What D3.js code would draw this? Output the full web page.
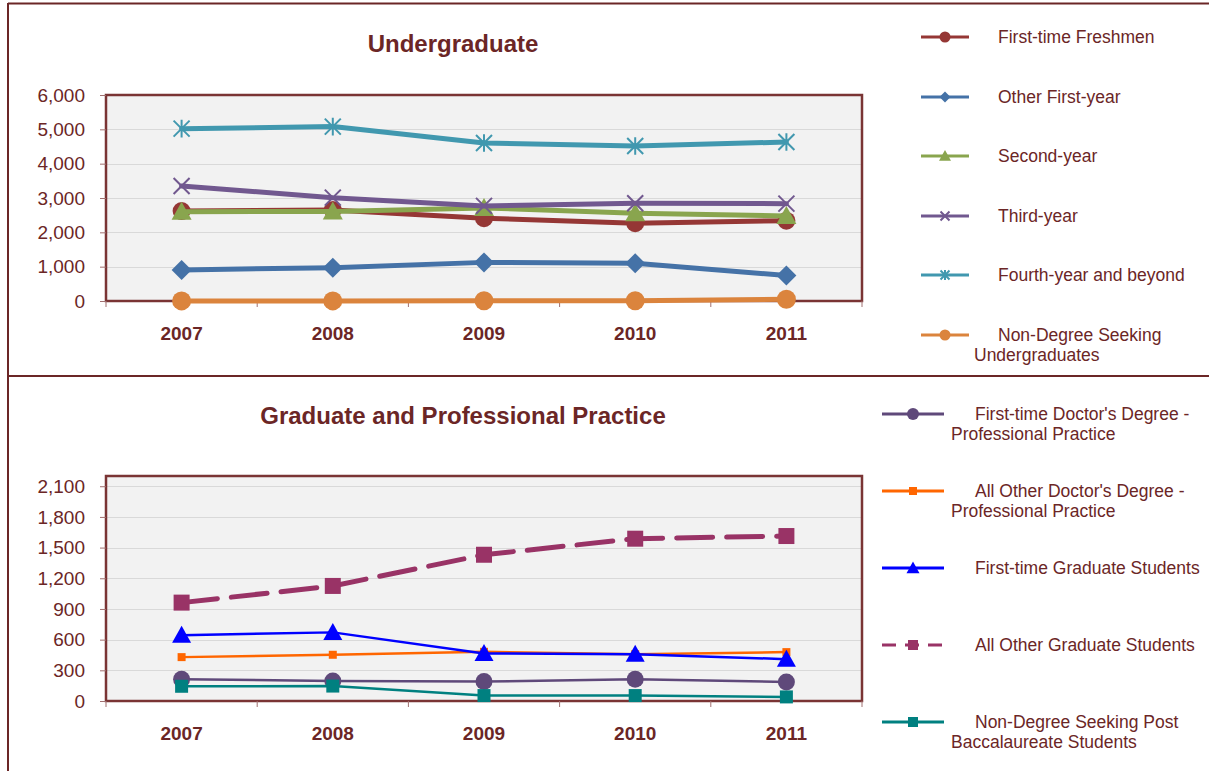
<!DOCTYPE html>
<html lang="en">
<head>
    <meta charset="UTF-8">
    <title>Undergraduate / Graduate and Professional Practice</title>
    <script src="https://d3js.org/d3.v7.min.js"></script>
    <style>
        body { margin: 0; background: #fff; }
        svg { font-family: "Liberation Sans", Arial, sans-serif; }
        .title { font-size: 24px; font-weight: bold; fill: #6b2626; text-anchor: middle; }
        .ytick text { font-size: 19px; fill: #6b2626; }
        .xtick text { font-size: 19px; font-weight: bold; fill: #6b2626; }
        .legend text { font-size: 17.5px; fill: #6b2626; }
        .grid line { stroke: #d9d9d9; stroke-width: 1; shape-rendering: crispEdges; }
    </style>
</head>
<body>
    <div id="chart"></div>
    <script>
        const years = ["2007", "2008", "2009", "2010", "2011"];

        // Undergraduate
        const ugNames = ["First-time Freshmen", "Other First-year", "Second-year", "Third-year",
            "Fourth-year and beyond", "Non-Degree Seeking Undergraduates"];
        const freshmen = [2620, 2650, 2410, 2265, 2340];
        const otherFirst = [905, 970, 1125, 1100, 740];
        const secondYear = [2600, 2610, 2710, 2555, 2475];
        const thirdYear = [3350, 3010, 2770, 2845, 2835];
        const fourthYear = [5020, 5080, 4600, 4515, 4630];
        const nonDegreeUg = [3, 3, 5, 8, 50];
        const ugTicks = [0, 1000, 2000, 3000, 4000, 5000, 6000];

        // Graduate and Professional Practice
        const grNames = ["First-time Doctor's Degree - Professional Practice",
            "All Other Doctor's Degree - Professional Practice", "First-time Graduate Students",
            "All Other Graduate Students", "Non-Degree Seeking Post Baccalaureate Students"];
        const firstDoctor = [213, 196, 190, 213, 186];
        const otherDoctor = [429, 452, 481, 458, 478];
        const firstGrad = [643, 671, 465, 458, 409];
        const otherGrad = [962, 1125, 1430, 1587, 1613];
        const nonDegreeGr = [144, 146, 53, 53, 40];
        const grTicks = [0, 300, 600, 900, 1200, 1500, 1800, 2100];

        const textColor = "#6b2626";
        const frameColor = "#6b2626";

        const svg = d3.select("#chart").append("svg")
            .attr("width", 1209).attr("height", 771);

        // outer frame
        svg.append("line").attr("x1", 8).attr("x2", 1209).attr("y1", 3.5).attr("y2", 3.5)
            .attr("stroke", frameColor).attr("stroke-width", 2);
        svg.append("line").attr("x1", 8).attr("x2", 8).attr("y1", 3).attr("y2", 771)
            .attr("stroke", frameColor).attr("stroke-width", 2);
        svg.append("line").attr("x1", 8).attr("x2", 1209).attr("y1", 376).attr("y2", 376)
            .attr("stroke", frameColor).attr("stroke-width", 2);

        function markerPath(type, r) {
            switch (type) {
                case "circle":
                    return `M${-r},0A${r},${r} 0 1,0 ${r},0A${r},${r} 0 1,0 ${-r},0Z`;
                case "diamond":
                    return `M0,${-r}L${r},0L0,${r}L${-r},0Z`;
                case "triangle":
                    return `M0,${-r}L${r},${r * 0.8}L${-r},${r * 0.8}Z`;
                case "square":
                    return `M${-r},${-r}H${r}V${r}H${-r}Z`;
                case "x":
                    return `M${-r},${-r}L${r},${r}M${-r},${r}L${r},${-r}`;
                case "asterisk":
                    return `M${-r},${-r}L${r},${r}M${-r},${r}L${r},${-r}M0,${-r * 1.1}V${r * 1.1}`;
            }
        }
        const strokeOnly = t => t === "x" || t === "asterisk";

        function drawMarker(g, type, r, color, x, y) {
            const p = g.append("path")
                .attr("d", markerPath(type, r))
                .attr("transform", `translate(${x},${y})`);
            if (strokeOnly(type)) {
                p.attr("fill", "none").attr("stroke", color).attr("stroke-width", 2);
            } else {
                p.attr("fill", color);
            }
        }

        function drawChart(cfg) {
            const g = svg.append("g");
            const x = d3.scaleBand().domain(years).range([cfg.left, cfg.right]);
            const y = d3.scaleLinear().domain([0, cfg.max]).range([cfg.bottom, cfg.top]);

            g.append("rect")
                .attr("x", cfg.left).attr("y", cfg.top)
                .attr("width", cfg.right - cfg.left).attr("height", cfg.bottom - cfg.top)
                .attr("fill", "#f2f2f2");

            g.append("g").attr("class", "grid")
                .selectAll("line").data(cfg.ticks.filter(d => d > 0)).enter()
                .append("line")
                .attr("x1", cfg.left).attr("x2", cfg.right)
                .attr("y1", d => Math.round(y(d)) + 0.5).attr("y2", d => Math.round(y(d)) + 0.5);

            g.append("rect")
                .attr("x", cfg.left).attr("y", cfg.top)
                .attr("width", cfg.right - cfg.left).attr("height", cfg.bottom - cfg.top)
                .attr("fill", "none").attr("stroke", "#7a3434").attr("stroke-width", 2.5);

            // y axis
            const yAxis = g.append("g").attr("class", "ytick")
                .attr("transform", `translate(${cfg.left},0)`)
                .call(d3.axisLeft(y).tickValues(cfg.ticks).tickFormat(d3.format(",")).tickSize(6).tickPadding(15));
            yAxis.select(".domain").remove();
            yAxis.selectAll("line").attr("stroke", "#a07070");
            yAxis.selectAll("text").attr("fill", textColor);

            // x axis (ticks at category boundaries)
            const xAxis = g.append("g").attr("class", "xtick")
                .attr("transform", `translate(0,${cfg.bottom})`)
                .call(d3.axisBottom(x).tickSize(0).tickPadding(26));
            xAxis.select(".domain").remove();
            xAxis.selectAll("text").attr("fill", textColor);
            g.append("g").selectAll("line")
                .data(d3.range(years.length + 1)).enter().append("line")
                .attr("x1", i => cfg.left + i * x.bandwidth()).attr("x2", i => cfg.left + i * x.bandwidth())
                .attr("y1", cfg.bottom).attr("y2", cfg.bottom + 6)
                .attr("stroke", "#a07070");

            const cx = d => x(d) + x.bandwidth() / 2;
            const line = d3.line().x(d => cx(d.year)).y(d => y(d.value));

            cfg.series.forEach(s => {
                const pts = years.map((yr, i) => ({ year: yr, value: s.values[i] }));
                const path = g.append("path").datum(pts)
                    .attr("d", line)
                    .attr("fill", "none")
                    .attr("stroke", s.color)
                    .attr("stroke-width", s.width)
                    .attr("stroke-linejoin", "round")
                    .attr("stroke-linecap", "round");
                if (s.dash) path.attr("stroke-dasharray", s.dash);
                pts.forEach(p => drawMarker(g, s.marker, s.size, s.color, cx(p.year), y(p.value)));
            });

            // legend
            const lg = svg.append("g").attr("class", "legend");
            cfg.series.forEach((s, i) => {
                const ly = cfg.legend.y[i];
                const ll = lg.append("line")
                    .attr("x1", cfg.legend.x1).attr("x2", cfg.legend.x2)
                    .attr("y1", ly).attr("y2", ly)
                    .attr("stroke", s.color).attr("stroke-width", 3);
                if (s.dash) ll.attr("stroke-dasharray", "14,9");
                drawMarker(lg, s.marker, s.legendSize, s.color, (cfg.legend.x1 + cfg.legend.x2) / 2, ly);
                const t = lg.append("text").attr("y", ly);
                s.label.forEach((txt, k) => {
                    t.append("tspan")
                        .attr("x", k === 0 ? cfg.legend.tx : cfg.legend.tx2)
                        .attr("dy", k === 0 ? "0.35em" : "20")
                        .text(txt);
                });
            });

            svg.append("text").attr("class", "title")
                .attr("x", cfg.titleX).attr("y", cfg.titleY)
                .text(cfg.title);
        }

        drawChart({
            title: "Undergraduate", titleX: 453, titleY: 52,
            left: 106, right: 862, top: 95, bottom: 301, max: 6000, ticks: ugTicks,
            series: [
                { label: [ugNames[0]], values: freshmen, color: "#953735", width: 5, marker: "circle", size: 9, legendSize: 5.5 },
                { label: [ugNames[1]], values: otherFirst, color: "#4572a7", width: 5, marker: "diamond", size: 10, legendSize: 5.5 },
                { label: [ugNames[2]], values: secondYear, color: "#89a54e", width: 5, marker: "triangle", size: 10, legendSize: 6 },
                { label: [ugNames[3]], values: thirdYear, color: "#71588f", width: 5, marker: "x", size: 8, legendSize: 4.5 },
                { label: [ugNames[4]], values: fourthYear, color: "#4198af", width: 5, marker: "asterisk", size: 8, legendSize: 4.5 },
                { label: ["Non-Degree Seeking", "Undergraduates"], values: nonDegreeUg, color: "#db843d", width: 5, marker: "circle", size: 9.5, legendSize: 5.5 }
            ],
            legend: { x1: 921, x2: 969, tx: 998, tx2: 974, y: [37, 97, 156, 216, 275, 335] }
        });

        drawChart({
            title: "Graduate and Professional Practice", titleX: 463, titleY: 424,
            left: 106, right: 862, top: 476, bottom: 701, max: 2200, ticks: grTicks,
            series: [
                { label: ["First-time Doctor's Degree -", "Professional Practice"], values: firstDoctor, color: "#5f497a", width: 2.5, marker: "circle", size: 8.5, legendSize: 6 },
                { label: ["All Other Doctor's Degree -", "Professional Practice"], values: otherDoctor, color: "#ff6600", width: 2.5, marker: "square", size: 4, legendSize: 4 },
                { label: [grNames[2]], values: firstGrad, color: "#0000ff", width: 2.5, marker: "triangle", size: 9.5, legendSize: 6.5 },
                { label: [grNames[3]], values: otherGrad, color: "#993366", width: 5, marker: "square", size: 8, legendSize: 5, dash: "36,14" },
                { label: ["Non-Degree Seeking Post", "Baccalaureate Students"], values: nonDegreeGr, color: "#008080", width: 2.5, marker: "square", size: 6.5, legendSize: 5 }
            ],
            legend: { x1: 882, x2: 944, tx: 975, tx2: 951, y: [414, 491, 568, 645, 722] }
        });
    </script>
</body>
</html>
